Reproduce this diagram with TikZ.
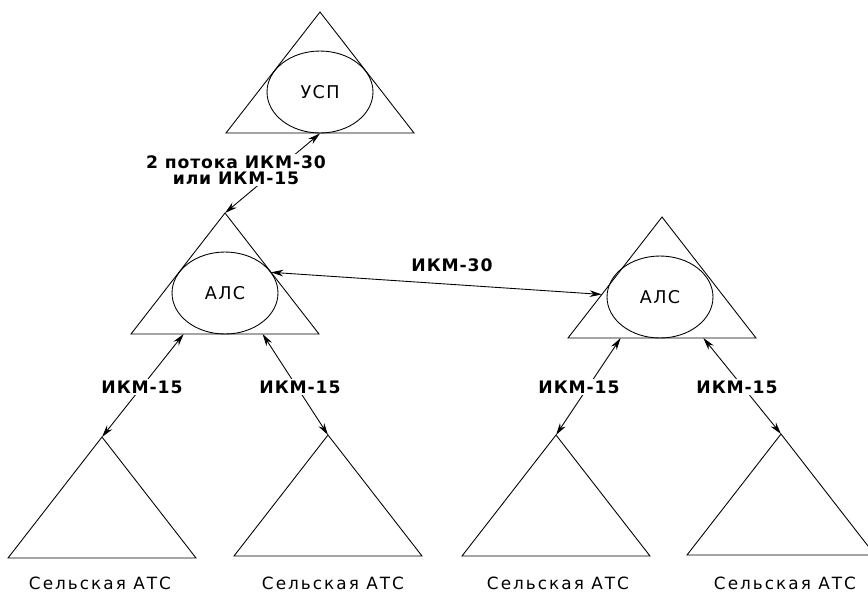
\documentclass[tikz,border=0pt]{standalone}
\usepackage{fontspec}
\setmainfont{DejaVu Sans}
\usetikzlibrary{calc,shapes.geometric,arrows.meta}
\tikzset{>={Stealth[length=7pt,width=3.8pt]},
  hub/.style = {ellipse,draw,line width=0.5pt,minimum width=2.12cm,minimum height=1.64cm,inner sep=0pt,
    font=\fontsize{10}{12}\selectfont\addfontfeature{LetterSpace=8}},
  link/.style = {<->,line width=0.5pt},
  lbl/.style = {fill=white,inner sep=1pt,align=center,
    font=\bfseries\fontsize{9.8}{9.3}\selectfont\addfontfeature{LetterSpace=5}},
  caption/.style = {font=\fontsize{9.6}{11}\selectfont\addfontfeature{LetterSpace=12}}
}
% triangle of a station: apex at (#2,#3)
\newcommand\station[3]{%
  \coordinate (#1-top) at (#2,#3);
  \coordinate (#1-l) at ($(#2,#3)+(-94,121)$);
  \coordinate (#1-r) at ($(#2,#3)+(94,121)$);
  \draw[line width=0.5pt] (#1-top) -- (#1-l) -- (#1-r) -- cycle;
}

\begin{document}
\begin{tikzpicture}[x=0.02cm,y=-0.02cm]
  \useasboundingbox (0,0) rectangle (868,593);

  \station{usp}{320}{12}
  \station{als1}{225}{213}
  \station{als2}{662}{217}
  \station{ats1}{102}{437}
  \station{ats2}{328}{435}
  \station{ats3}{556}{435}
  \station{ats4}{781}{434}

  \node[hub] (usp) at (320,92) {УСП};
  \node[hub] (als1) at (225,293) {АЛС};
  \node[hub] (als2) at (660,297) {АЛС};

  \node[caption] (cap1) at (100,583) {Сельская АТС};
  \node[caption] (cap2) at (333,583) {Сельская АТС};
  \node[caption] (cap3) at (558,583) {Сельская АТС};
  \node[caption] (cap4) at (785,583) {Сельская АТС};

  % trunks
  \draw[link] (usp.south) -- (als1-top);
  \draw[link] ($(als1-top)!0.49!(als1-r)$) -- ($(als2-top)!0.64!(als2-l)$);
  \draw[link] ($(als1-l)!0.28!(als1-r)$) -- (ats1-top);
  \draw[link] ($(als1-l)!0.70!(als1-r)$) -- (ats2-top);
  \draw[link] ($(als2-l)!0.28!(als2-r)$) -- (ats3-top);
  \draw[link] ($(als2-l)!0.72!(als2-r)$) -- (ats4-top);

  \node[lbl] (k0) at (452,265) {ИКМ-30};
  \node[lbl] (k1) at (236,170) {2 потока ИКМ-30\\или ИКМ-15};
  \node[lbl] (k2) at (142,387) {ИКМ-15};
  \node[lbl] (k3) at (300,387) {ИКМ-15};
  \node[lbl] (k4) at (579,387) {ИКМ-15};
  \node[lbl] (k5) at (737,387) {ИКМ-15};
\end{tikzpicture}
\end{document}
